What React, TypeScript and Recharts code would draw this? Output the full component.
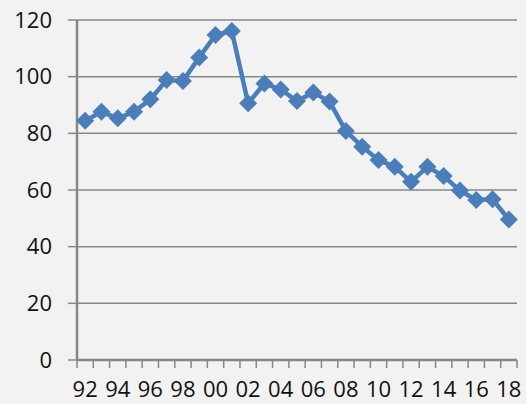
import React from "react";
import { LineChart, Line, XAxis, YAxis, CartesianGrid } from "recharts";

const years: number[] = [
  1992, 1993, 1994, 1995, 1996, 1997, 1998, 1999, 2000, 2001, 2002, 2003, 2004,
  2005, 2006, 2007, 2008, 2009, 2010, 2011, 2012, 2013, 2014, 2015, 2016, 2017, 2018,
];
const values: number[] = [
  84.4, 87.6, 85.3, 87.6, 92.0, 98.8, 98.5, 106.8, 114.7, 116.1, 90.6, 97.6, 95.5,
  91.4, 94.4, 91.2, 80.8, 75.3, 70.6, 68.2, 62.9, 68.2, 64.9, 59.8, 56.5, 56.7, 49.6,
];
const yTicks: number[] = [0, 20, 40, 60, 80, 100, 120];

const data = years.map((yr, i) => ({ x: i + 0.5, year: yr, value: values[i] }));

// tick positions: integers = band boundaries (tick marks), half values = labels
const boundaryTicks = years.map((_, i) => i).concat([years.length]);
const labelTicks = years.map((_, i) => i + 0.5).filter((_, i) => i % 2 === 0);
const allTicks = [...boundaryTicks, ...labelTicks].sort((a, b) => a - b);

const FONT = "'Open Sans', 'DejaVu Sans', sans-serif";
const BLUE = "#4a7ebb";
const GREY = "#878787";

const XTick = (props: any) => {
  const { x, y, payload } = props;
  const v: number = payload.value;
  if (Number.isInteger(v)) {
    return <line x1={x} x2={x} y1={y} y2={y + 8} stroke={GREY} strokeWidth={1.5} />;
  }
  const idx = Math.floor(v);
  const yr = years[idx];
  const label = String(yr % 100).padStart(2, "0");
  return (
    <text x={x} y={y + 37} textAnchor="middle" fontFamily={FONT} fontSize={22} fill="#111">
      {label}
    </text>
  );
};

const Diamond = (props: any) => {
  const { cx, cy } = props;
  if (cx == null || cy == null) return null;
  const r = 9;
  return (
    <path
      d={`M${cx},${cy - r} L${cx + r},${cy} L${cx},${cy + r} L${cx - r},${cy} Z`}
      fill={BLUE}
      stroke="none"
    />
  );
};

export default function App() {
  return (
    <div style={{ position: "absolute", left: 0, top: 0, width: 526, height: 404, background: "#f2f2f2" }}>
      <LineChart width={526} height={404} data={data} margin={{ top: 20, right: 9, bottom: 0, left: 0 }}>
        <CartesianGrid vertical={false} stroke={GREY} strokeWidth={1.5} />
        <XAxis
          dataKey="x"
          type="number"
          domain={[0, years.length]}
          ticks={allTicks}
          interval={0}
          height={44}
          tickLine={false}
          tickSize={0}
          tickMargin={0}
          axisLine={{ stroke: GREY, strokeWidth: 2.5 }}
          tick={<XTick />}
        />
        <YAxis
          type="number"
          domain={[0, 120]}
          ticks={yTicks}
          interval={0}
          width={77}
          tickSize={9}
          tickMargin={16}
          axisLine={{ stroke: GREY, strokeWidth: 2.5 }}
          tickLine={{ stroke: GREY, strokeWidth: 1.5 }}
          tick={{ fontFamily: FONT, fontSize: 22, fill: "#111" }}
        />
        <Line
          type="linear"
          dataKey="value"
          stroke={BLUE}
          strokeWidth={4.5}
          dot={<Diamond />}
          activeDot={false}
          isAnimationActive={false}
        />
      </LineChart>
    </div>
  );
}
